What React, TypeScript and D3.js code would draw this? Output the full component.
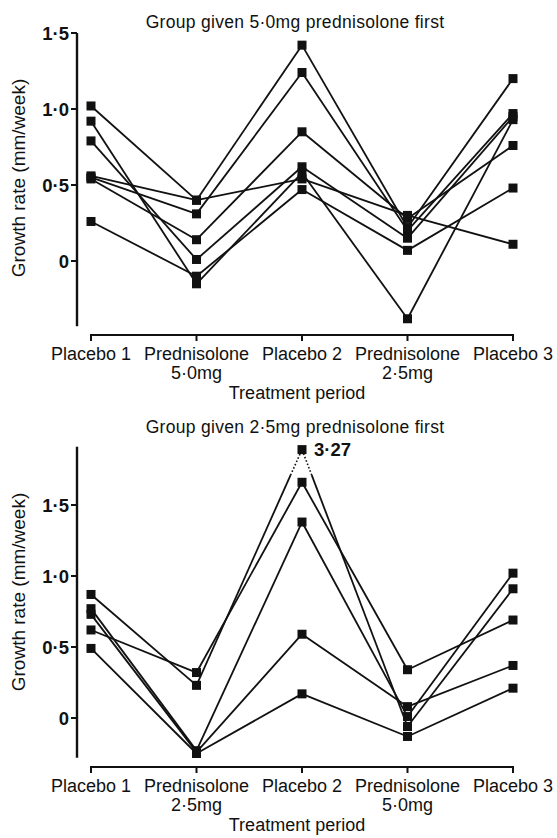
import React from "react";
import * as d3 from "d3";

const W = 557;
const H = 838;
const FONT = "'Liberation Sans', Arial, sans-serif";

// treatment periods, in the order each group took them
const topPeriods = [["Placebo 1"], ["Prednisolone", "5·0mg"], ["Placebo 2"], ["Prednisolone", "2·5mg"], ["Placebo 3"]];
const bottomPeriods = [["Placebo 1"], ["Prednisolone", "2·5mg"], ["Placebo 2"], ["Prednisolone", "5·0mg"], ["Placebo 3"]];
const yTicks = [0, 0.5, 1.0, 1.5];

// growth rate (mm/week), one row per child
const topSeries = [
  [1.02, 0.4, 1.42, 0.22, 1.2],
  [0.56, 0.4, 0.54, 0.3, 0.11],
  [0.55, 0.31, 1.24, 0.2, 0.97],
  [0.54, 0.14, 0.85, 0.28, 0.76],
  [0.79, 0.01, 0.62, 0.15, 0.95],
  [0.92, -0.15, 0.58, -0.38, 0.93],
  [0.26, -0.1, 0.47, 0.07, 0.48],
];
const bottomSeries = [
  [0.87, 0.23, 3.27, -0.06, 0.91],
  [0.62, 0.32, 1.66, 0.34, 0.69],
  [0.77, -0.23, 1.38, 0.01, 1.02],
  [0.73, -0.24, 0.59, 0.08, 0.37],
  [0.49, -0.25, 0.17, -0.13, 0.21],
];

// off-scale point is drawn at the top of the axis, joined by dotted lines
const BREAK_SHOW = 1.89;
const BREAK_DOT_FROM = 1.71;

const fmt = (v: number) => (v === 0 ? "0" : d3.format(".1f")(v).replace(".", "·"));
const fmt2 = (v: number) => d3.format(".2f")(v).replace(".", "·");

function Panel({ title, periods, series, zeroY, pxPerUnit, axisLow, axisHigh, axisY, titleY, labelMid }: any) {
  const x = d3.scalePoint<number>().domain(d3.range(periods.length)).range([91, 513]);
  const y = d3.scaleLinear().domain([0, 1.5]).range([zeroY, zeroY - 1.5 * pxPerUnit]);
  const show = (v: number) => (v > axisHigh ? BREAK_SHOW : v);
  const axisX = 77;

  const segs: any[] = [];
  series.forEach((s: number[], si: number) => {
    for (let i = 0; i < s.length - 1; i++) {
      const p0: [number, number] = [x(i)!, y(show(s[i]))];
      const p1: [number, number] = [x(i + 1)!, y(show(s[i + 1]))];
      const off0 = s[i] > axisHigh;
      const off1 = s[i + 1] > axisHigh;
      if (!off0 && !off1) {
        segs.push({ k: `${si}-${i}`, a: p0, b: p1, dot: false });
      } else {
        const [near, far] = off1 ? [p0, p1] : [p1, p0];
        const yb = y(BREAK_DOT_FROM);
        const t = (near[1] - yb) / (near[1] - far[1]);
        const mid: [number, number] = [near[0] + t * (far[0] - near[0]), yb];
        segs.push({ k: `${si}-${i}s`, a: near, b: mid, dot: false });
        segs.push({ k: `${si}-${i}d`, a: mid, b: far, dot: true });
      }
    }
  });
  const line = d3.line();

  return (
    <g fontFamily={FONT} fill="#111">
      <text x={295} y={titleY} textAnchor="middle" fontSize={17.5} letterSpacing={0.3}>{title}</text>

      {/* y axis */}
      <line x1={axisX} x2={axisX} y1={y(axisHigh)} y2={y(axisLow)} stroke="#111" strokeWidth={2.4} />
      {yTicks.map((t) => (
        <g key={t}>
          <line x1={axisX - 6} x2={axisX} y1={y(t)} y2={y(t)} stroke="#111" strokeWidth={2} />
          <text x={axisX - 8} y={y(t) + 6.5} textAnchor="end" fontSize={18.5} fontWeight="bold">{fmt(t)}</text>
        </g>
      ))}
      <text transform={`translate(25,${labelMid}) rotate(-90)`} textAnchor="middle" fontSize={19}>Growth rate (mm/week)</text>

      {/* x axis */}
      <line x1={x(0)! - 1} x2={x(periods.length - 1)! + 1} y1={axisY} y2={axisY} stroke="#111" strokeWidth={2} />
      {periods.map((p: string[], i: number) => (
        <g key={i}>
          <line x1={x(i)} x2={x(i)} y1={axisY} y2={axisY + 6} stroke="#111" strokeWidth={2} />
          {p.map((ln, j) => (
            <text key={j} x={x(i)} y={axisY + 25 + j * 19} textAnchor="middle" fontSize={18}>{ln}</text>
          ))}
        </g>
      ))}
      <text x={297} y={axisY + 64} textAnchor="middle" fontSize={18}>Treatment period</text>

      {/* lines */}
      {segs.map((s) => (
        <path key={s.k} d={line([s.a, s.b])!} fill="none" stroke="#111" strokeWidth={s.dot ? 1.6 : 1.8}
          strokeDasharray={s.dot ? "1.6 2" : undefined} />
      ))}
      {series.map((s: number[], si: number) =>
        s.map((v, i) => (
          <g key={`${si}-${i}`}>
            <rect x={x(i)! - 4.5} y={y(show(v)) - 4.5} width={9} height={9} fill="#111" />
            {v > axisHigh && (
              <text x={x(i)! + 12} y={y(show(v)) + 6.5} fontSize={18.5} fontWeight="bold">{fmt2(v)}</text>
            )}
          </g>
        ))
      )}
    </g>
  );
}

export default function App() {
  return (
    <svg width={W} height={H} style={{ position: "absolute", left: 0, top: 0, background: "#fff" }}>
      <rect width={W} height={H} fill="#fff" />
      <Panel title="Group given 5·0mg prednisolone first" periods={topPeriods} series={topSeries}
        zeroY={261} pxPerUnit={152} axisLow={-0.43} axisHigh={1.5} axisY={335} titleY={28} labelMid={178} />
      <Panel title="Group given 2·5mg prednisolone first" periods={bottomPeriods} series={bottomSeries}
        zeroY={718} pxPerUnit={142} axisLow={-0.28} axisHigh={1.91} axisY={767} titleY={433} labelMid={592} />
    </svg>
  );
}
